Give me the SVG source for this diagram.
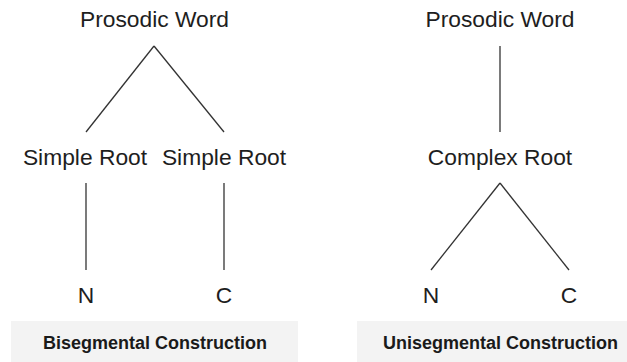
<svg xmlns="http://www.w3.org/2000/svg" width="627" height="362" viewBox="0 0 627 362">
<style>
.t{font-family:"Liberation Sans",Arial,sans-serif;font-size:22.8px;fill:#1e1e1e;text-anchor:middle}
.b{font-family:"Liberation Sans",Arial,sans-serif;font-size:18px;font-weight:bold;fill:#1a1a1a;text-anchor:middle}
.box{fill:#f3f3f3}
.e{stroke:#333;stroke-width:1.3;fill:none}
</style>
<rect width="627" height="362" fill="#fff"/>
<g id="connectors">
<line class="e" x1="154" y1="46" x2="86" y2="132"/>
<line class="e" x1="154" y1="46" x2="224" y2="132"/>
<line class="e" x1="86" y1="183" x2="86" y2="270"/>
<line class="e" x1="224" y1="183" x2="224" y2="270"/>
<line class="e" x1="500" y1="46" x2="500" y2="132"/>
<line class="e" x1="500" y1="183" x2="431" y2="270"/>
<line class="e" x1="500" y1="183" x2="569" y2="270"/>
</g>
<g id="left-pw"><text class="t" x="154.5" y="27">Prosodic Word</text></g>
<g id="left-sr1"><text class="t" x="85" y="165">Simple Root</text></g>
<g id="left-sr2"><text class="t" x="224" y="165">Simple Root</text></g>
<g id="left-n"><text class="t" x="86" y="303">N</text></g>
<g id="left-c"><text class="t" x="224" y="303">C</text></g>
<g id="left-label"><rect class="box" x="11" y="321" width="287" height="41"/><text class="b" x="155" y="349">Bisegmental Construction</text></g>
<g id="right-pw"><text class="t" x="500" y="27">Prosodic Word</text></g>
<g id="right-cr"><text class="t" x="500" y="165">Complex Root</text></g>
<g id="right-n"><text class="t" x="431" y="303">N</text></g>
<g id="right-c"><text class="t" x="569" y="303">C</text></g>
<g id="right-label"><rect class="box" x="357" y="321" width="287" height="41"/><text class="b" x="500.5" y="349">Unisegmental Construction</text></g>
</svg>
